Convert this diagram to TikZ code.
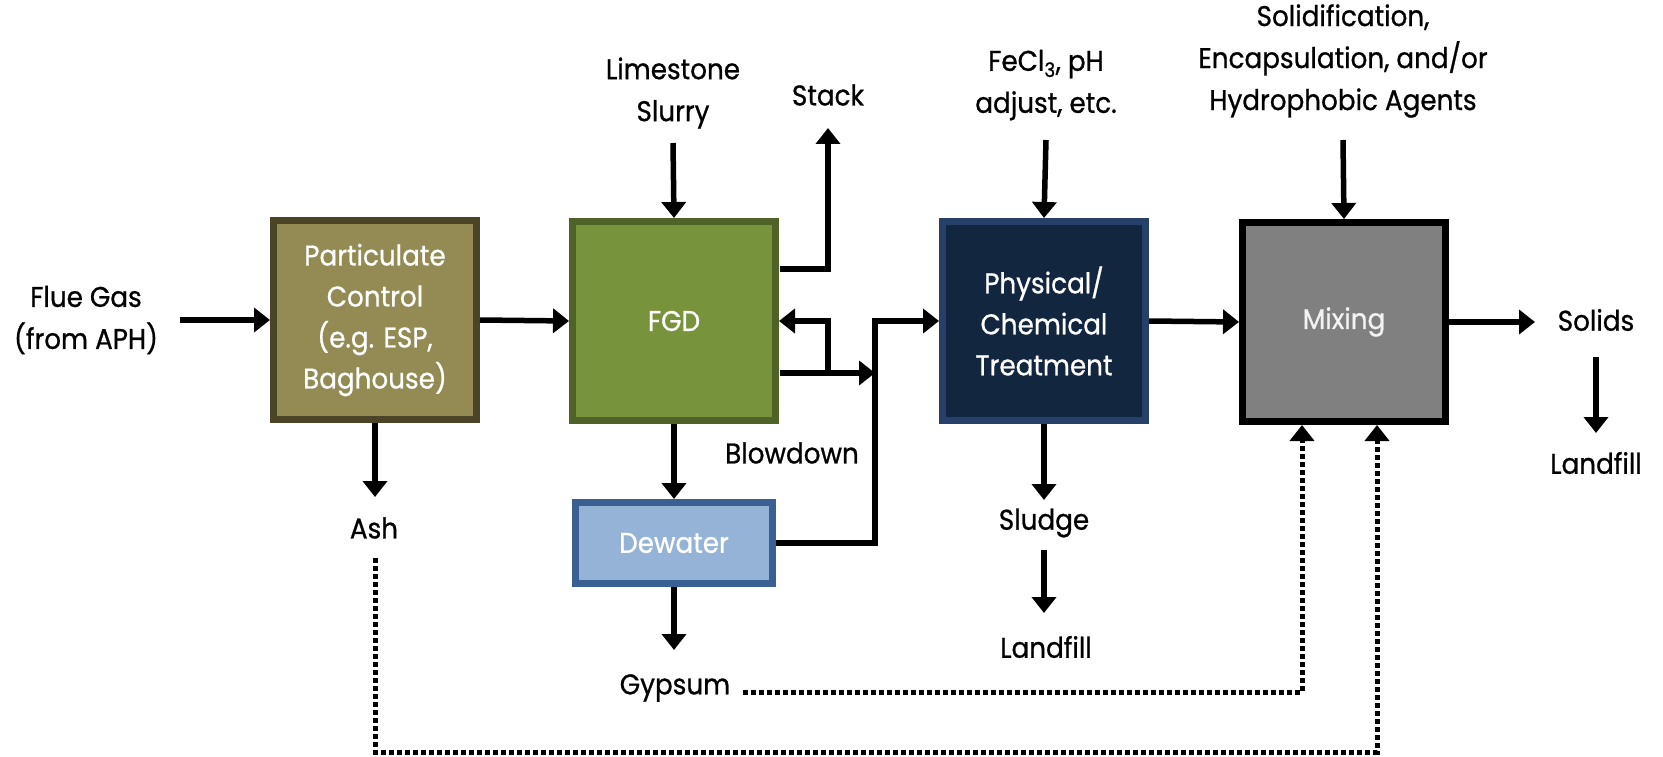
\documentclass[tikz,border=0pt]{standalone}
\usepackage{fontspec}
\setmainfont[FakeStretch=0.92,FakeBold=0.8]{Poppins}
\usetikzlibrary{arrows.meta}
\definecolor{pcfill}{HTML}{948A54}
\definecolor{pcline}{HTML}{4A4526}
\definecolor{fgdfill}{HTML}{77933C}
\definecolor{fgdline}{HTML}{4F6228}
\definecolor{dwfill}{HTML}{95B3D7}
\definecolor{dwline}{HTML}{3A5F93}
\definecolor{phfill}{HTML}{132640}
\definecolor{phline}{HTML}{26406A}
\definecolor{mxfill}{HTML}{808080}
\definecolor{mxtext}{HTML}{F2F2F2}
\tikzset{
  txt/.style={align=center, inner sep=0pt, font=\fontsize{28.5}{42}\selectfont},
  box/.style={draw, line width=7pt, minimum width=203pt, minimum height=199pt,
    align=center, inner sep=0pt, text=white, font=\fontsize{28.5}{41}\selectfont},
  arr/.style={line width=5.5pt, -{Triangle[width=24pt,length=16pt]}},
  dotarr/.style={line width=5pt, dash pattern=on 5pt off 3pt, -{Triangle[width=24pt,length=16pt]}}
}
\begin{document}
\begin{tikzpicture}[x=1pt,y=-1pt]
\useasboundingbox (0,0) rectangle (1663,757);
% boxes
\node[box, fill=pcfill, draw=pcline] (pc) at (375,320) {Particulate\\Control\\(e.g. ESP,\\Baghouse)};
\node[box, fill=fgdfill, draw=fgdline] (fgd) at (674,321) {FGD};
\node[box, fill=dwfill, draw=dwline, minimum height=81pt, minimum width=197pt] (dw) at (674,543) {Dewater};
\node[box, fill=phfill, draw=phline] (ph) at (1044,321) {Physical/\\Chemical\\Treatment};
\node[box, fill=mxfill, draw=black, text=mxtext] (mx) at (1344,322) {\raisebox{-4pt}{Mixing}};
% labels
\node[txt] (flue) at (86,320) {Flue Gas\\(from APH)};
\node[txt] (lime) at (673,93) {Limestone\\Slurry};
\node[txt] (stack) at (828,95) {Stack};
\node[txt] (fecl) at (1046,85) {FeCl\textsubscript{3}, pH\\adjust, etc.};
\node[txt] (solid) at (1343,61) {Solidification,\\Encapsulation, and/or\\Hydrophobic Agents};
\node[txt] (blow) at (792,453) {Blowdown};
\node[txt] (ash) at (374,528) {Ash};
\node[txt] (gyp) at (675,688) {Gypsum};
\node[txt] (sludge) at (1044,523) {Sludge};
\node[txt] (land1) at (1046,647) {Landfill};
\node[txt] (solids) at (1596,320) {Solids};
\node[txt] (land2) at (1596,463) {Landfill};
% coordinates
\coordinate (flueE) at (180,320);
\coordinate (limeS) at (673,143);
\coordinate (stk) at (828,128);
\coordinate (stkB) at (780,269);
\coordinate (bd) at (875,373);
\coordinate (bdS) at (780,373);
\coordinate (ret) at (828,373);
\coordinate (v) at (875,321);
\coordinate (ashA) at (375,497);
\coordinate (gypA) at (674,650);
\coordinate (feclS) at (1046,140);
\coordinate (solS) at (1343,140);
\coordinate (solidsW) at (1535,322);
\coordinate (solidsA) at (1596,357);
\coordinate (solidsB) at (1596,433);
\coordinate (sl1) at (1044,500);
\coordinate (sl2) at (1044,550);
\coordinate (sl3) at (1044,613);
\coordinate (a1) at (375,558);
\coordinate (a2) at (1377,752);
\coordinate (g1) at (743,692);
\coordinate (g2) at (1302,692);
% connectors
\draw[arr] (flueE) -- (pc.west);
\draw[arr] (pc.east) -- (fgd.west);
\draw[arr] (limeS) -- (fgd.north);
\draw[arr] (stkB) -| (stk);
\draw[arr] (bdS) -- (bd);
\draw[arr] (ret) |- (fgd.east);
\draw[arr] (dw.east) -| (v) -- (ph.west);
\draw[arr] (fgd.south) -- (dw.north);
\draw[arr] (dw.south) -- (gypA);
\draw[arr] (pc.south) -- (ashA);
\draw[arr] (feclS) -- (ph.north);
\draw[arr] (ph.east) -- (mx.west);
\draw[arr] (solS) -- (mx.north);
\draw[arr] (mx.east) -- (solidsW);
\draw[arr] (solidsA) -- (solidsB);
\draw[arr] (ph.south) -- (sl1);
\draw[arr] (sl2) -- (sl3);
\draw[dotarr] (a1) |- (a2) -- (a2 |- mx.south);
\draw[dotarr] (g1) -- (g2) -- (g2 |- mx.south);
\end{tikzpicture}
\end{document}
